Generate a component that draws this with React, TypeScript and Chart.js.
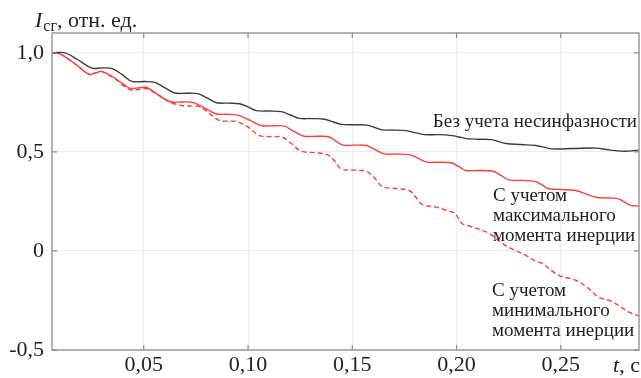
import React, { useEffect, useRef } from "react";
import { Chart, registerables } from "chart.js";

Chart.register(...registerables);

// Axis ticks
const xTicks = [0.05, 0.1, 0.15, 0.2, 0.25];
const yTicks = [-0.5, 0, 0.5, 1.0];

// "Без учета несинфазности"
const tNoPhase = [0.006, 0.0122, 0.0184, 0.0251, 0.0304, 0.0352, 0.040, 0.0443, 0.0505, 0.0553, 0.060, 0.0648, 0.0706, 0.0758, 0.0806, 0.0849, 0.0907, 0.0959, 0.1002, 0.104, 0.110, 0.116, 0.1204, 0.1246, 0.1304, 0.1366, 0.1407, 0.1447, 0.151, 0.1572, 0.1608, 0.1644, 0.170, 0.1758, 0.1801, 0.1844, 0.1916, 0.1978, 0.2012, 0.2045, 0.2107, 0.217, 0.2203, 0.2237, 0.2309, 0.238, 0.2419, 0.2457, 0.2562, 0.2667, 0.2739, 0.281, 0.2873];
const iNoPhase = [1.0, 1.0, 0.965, 0.923, 0.924, 0.919, 0.887, 0.856, 0.855, 0.851, 0.824, 0.797, 0.796, 0.794, 0.771, 0.748, 0.746, 0.743, 0.726, 0.708, 0.706, 0.703, 0.686, 0.669, 0.668, 0.665, 0.652, 0.639, 0.637, 0.635, 0.623, 0.611, 0.610, 0.607, 0.597, 0.587, 0.587, 0.582, 0.575, 0.567, 0.564, 0.562, 0.552, 0.542, 0.537, 0.532, 0.524, 0.515, 0.517, 0.519, 0.509, 0.503, 0.509];

// "С учетом максимального момента инерции"
const tMaxJ = [0.006, 0.0098, 0.017, 0.0237, 0.027, 0.0299, 0.0366, 0.0433, 0.0481, 0.0514, 0.0567, 0.0624, 0.0682, 0.0734, 0.0792, 0.0849, 0.0902, 0.0959, 0.1017, 0.1069, 0.1122, 0.1175, 0.1222, 0.127, 0.1332, 0.139, 0.1452, 0.151, 0.1567, 0.161, 0.1653, 0.1715, 0.1773, 0.1816, 0.1859, 0.1916, 0.1978, 0.2012, 0.2045, 0.2112, 0.2179, 0.2215, 0.2251, 0.2313, 0.238, 0.2412, 0.2443, 0.2505, 0.2572, 0.262, 0.2667, 0.2729, 0.2777, 0.2806, 0.2835, 0.2878];
const iMaxJ = [1.0, 0.995, 0.945, 0.892, 0.899, 0.906, 0.869, 0.822, 0.824, 0.825, 0.789, 0.753, 0.752, 0.75, 0.721, 0.691, 0.69, 0.683, 0.655, 0.632, 0.632, 0.63, 0.602, 0.579, 0.579, 0.575, 0.535, 0.534, 0.532, 0.511, 0.49, 0.489, 0.486, 0.467, 0.448, 0.448, 0.444, 0.425, 0.406, 0.406, 0.401, 0.38, 0.359, 0.356, 0.35, 0.332, 0.314, 0.31, 0.305, 0.288, 0.271, 0.267, 0.263, 0.246, 0.23, 0.227];

// "С учетом минимального момента инерции"
const tMinJ = [0.006, 0.0098, 0.017, 0.0237, 0.027, 0.0299, 0.0366, 0.0433, 0.0481, 0.0514, 0.0577, 0.0634, 0.0687, 0.073, 0.0768, 0.0816, 0.0864, 0.0902, 0.0945, 0.0998, 0.1055, 0.1112, 0.1165, 0.1208, 0.1256, 0.1318, 0.138, 0.1414, 0.1447, 0.151, 0.1567, 0.1605, 0.1644, 0.171, 0.1773, 0.1806, 0.1835, 0.1902, 0.1964, 0.1993, 0.2026, 0.206, 0.2122, 0.2155, 0.2217, 0.2251, 0.2332, 0.238, 0.2409, 0.249, 0.2572, 0.2634, 0.2682, 0.2744, 0.2825, 0.2878];
const iMinJ = [1.0, 0.995, 0.945, 0.892, 0.899, 0.905, 0.866, 0.814, 0.816, 0.819, 0.783, 0.748, 0.733, 0.731, 0.728, 0.693, 0.658, 0.655, 0.653, 0.627, 0.582, 0.577, 0.574, 0.542, 0.503, 0.496, 0.486, 0.456, 0.414, 0.408, 0.402, 0.371, 0.325, 0.315, 0.305, 0.27, 0.235, 0.221, 0.201, 0.189, 0.139, 0.126, 0.104, 0.089, 0.04, 0.018, -0.022, -0.052, -0.062, -0.123, -0.148, -0.19, -0.234, -0.254, -0.308, -0.329];

const SERIF = '"Liberation Serif", "Times New Roman", serif';

function zip(ts: number[], vs: number[]) {
  const n = Math.min(ts.length, vs.length);
  const out: { x: number; y: number }[] = [];
  for (let i = 0; i < n; i++) out.push({ x: ts[i], y: vs[i] });
  return out;
}

const extrasPlugin = {
  id: "extras",
  afterDraw(chart: any) {
    const { ctx, chartArea: a, scales } = chart;
    const xs = scales.x;
    const ys = scales.y;
    ctx.save();
    // frame
    ctx.strokeStyle = "#9a9a9a";
    ctx.lineWidth = 1.5;
    ctx.strokeRect(a.left, a.top, a.right - a.left, a.bottom - a.top);
    // inward ticks
    ctx.strokeStyle = "#8a8a8a";
    ctx.lineWidth = 1.2;
    const seg = (x1: number, y1: number, x2: number, y2: number) => {
      ctx.beginPath();
      ctx.moveTo(x1, y1);
      ctx.lineTo(x2, y2);
      ctx.stroke();
    };
    for (const v of xTicks) {
      const px = xs.getPixelForValue(v);
      seg(px, a.bottom, px, a.bottom - 5);
      seg(px, a.top, px, a.top + 5);
    }
    for (const v of yTicks) {
      const py = ys.getPixelForValue(v);
      seg(a.left, py, a.left + 5, py);
      seg(a.right, py, a.right - 5, py);
    }

    ctx.fillStyle = "#222";
    ctx.textBaseline = "alphabetic";
    ctx.textAlign = "left";

    // Y-axis title: I_сг, отн. ед.
    let x = 35;
    ctx.font = `italic 22px ${SERIF}`;
    ctx.fillText("I", x, 27);
    x += ctx.measureText("I").width + 1;
    ctx.font = `16px ${SERIF}`;
    ctx.fillText("сг", x, 31);
    x += ctx.measureText("сг").width;
    ctx.font = `22px ${SERIF}`;
    ctx.fillText(", отн. ед.", x, 27);

    // X-axis title: t, с
    ctx.font = `22px ${SERIF}`;
    const rest = ", с";
    const restW = ctx.measureText(rest).width;
    ctx.font = `italic 22px ${SERIF}`;
    const tW = ctx.measureText("t").width;
    x = 640 - restW - tW;
    ctx.fillText("t", x, 372);
    ctx.font = `22px ${SERIF}`;
    ctx.fillText(rest, x + tW, 372);

    // Curve annotations
    ctx.font = `19px ${SERIF}`;
    ctx.textAlign = "right";
    ctx.fillText("Без учета несинфазности", 637, 127);
    ctx.textAlign = "left";
    ctx.fillText("С учетом", 493, 201);
    ctx.fillText("максимального", 493, 221);
    ctx.fillText("момента инерции", 493, 241);
    ctx.fillText("С учетом", 492, 296);
    ctx.fillText("минимального", 492, 316);
    ctx.fillText("момента инерции", 492, 336);
    ctx.restore();
  },
};

export default function App() {
  const ref = useRef<HTMLCanvasElement | null>(null);
  useEffect(() => {
    if (!ref.current) return;
    const line = { pointRadius: 0, tension: 0.35, fill: false, borderWidth: 1.4 };
    const chart = new Chart(ref.current, {
      type: "line",
      data: {
        datasets: [
          { ...line, data: zip(tNoPhase, iNoPhase), borderColor: "#3c3c3c" },
          { ...line, data: zip(tMaxJ, iMaxJ), borderColor: "#ff3b3b" },
          { ...line, data: zip(tMinJ, iMinJ), borderColor: "#ff3b3b", borderDash: [5, 3] },
        ],
      },
      options: {
        animation: false,
        responsive: true,
        maintainAspectRatio: false,
        parsing: false as any,
        layout: { padding: { top: 33, right: 2, left: 0, bottom: 0 } },
        plugins: { legend: { display: false }, tooltip: { enabled: false } },
        scales: {
          x: {
            type: "linear",
            min: 0.006,
            max: 0.2875,
            afterBuildTicks: (s: any) => {
              s.ticks = xTicks.map((v) => ({ value: v }));
            },
            afterFit: (s: any) => {
              s.height = 28;
            },
            grid: { color: "#ebebeb", drawTicks: false, lineWidth: 1 },
            border: { display: false },
            ticks: {
              padding: 2,
              maxRotation: 0,
              autoSkip: false,
              color: "#222",
              font: { family: SERIF, size: 22 },
              callback: (v: any) => Number(v).toFixed(2).replace(".", ","),
            },
          },
          y: {
            type: "linear",
            min: -0.5,
            max: 1.1,
            afterBuildTicks: (s: any) => {
              s.ticks = yTicks.map((v) => ({ value: v }));
            },
            afterFit: (s: any) => {
              s.width = 52;
            },
            grid: { color: "#ebebeb", drawTicks: false, lineWidth: 1 },
            border: { display: false },
            ticks: {
              padding: 8,
              color: "#222",
              font: { family: SERIF, size: 22 },
              callback: (v: any) => {
                const n = Number(v);
                if (Math.abs(n) < 1e-9) return "0";
                return n.toFixed(1).replace(".", ",");
              },
            },
          },
        },
      } as any,
      plugins: [extrasPlugin],
    });
    return () => chart.destroy();
  }, []);
  return (
    <div style={{ position: "fixed", left: 0, top: 0, width: 641, height: 378, background: "#fff" }}>
      <canvas ref={ref} />
    </div>
  );
}
